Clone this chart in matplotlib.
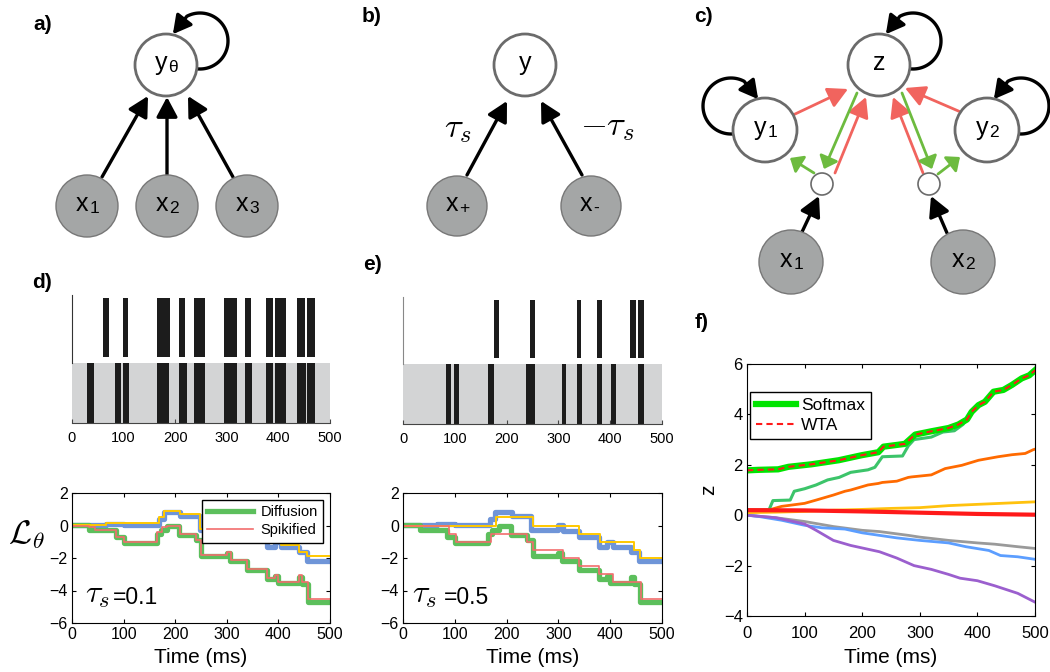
import numpy as np
import matplotlib
matplotlib.use('Agg')
import matplotlib.pyplot as plt
from matplotlib.patches import Circle, FancyArrowPatch, ArrowStyle
from matplotlib.path import Path
from matplotlib.lines import Line2D

plt.rcParams['font.family'] = ['Liberation Sans', 'DejaVu Sans']
plt.rcParams['mathtext.fontset'] = 'cm'

# ---------------- data ----------------
# raster spikes (start, end) in ms
d_top_spikes = [(61, 71), (98, 108), (165, 190), (208, 219), (237, 257), (295, 320),
                (335, 347), (375, 389), (394, 415), (437, 451), (455, 470)]
d_bot_spikes = [(30, 42), (83, 95), (98, 111), (165, 188), (208, 222), (237, 257),
                (295, 320), (335, 349), (375, 389), (394, 415), (437, 453), (455, 471)]
e_top_spikes = [(176, 185), (245, 254), (335, 344), (374, 384), (439, 449), (454, 465)]
e_bot_spikes = [(83, 93), (99, 109), (165, 175), (237, 254), (306, 315), (335, 345),
                (374, 384), (402, 412), (454, 465)]

# diffusion (shared by d and e)
up_t = [0, 65, 100, 168, 178, 210, 248, 300, 308, 340, 378, 393, 405, 440, 455, 500]
up_diff = [0.05, 0.12, 0.05, 0.38, 0.85, 0.6, -0.28, 0.03, -0.32, -0.69, -1.3, -1.0,
           -1.3, -1.6, -2.16, -2.16]
lo_t = [0, 33, 85, 100, 165, 172, 185, 208, 240, 250, 300, 306, 340, 378, 393, 400,
        440, 445, 458, 500]
lo_diff = [0.05, -0.3, -0.7, -1.1, -0.5, -0.25, -0.05, -0.6, -0.9, -1.9, -1.7, -2.2,
           -2.75, -3.3, -3.1, -3.55, -3.15, -3.6, -4.7, -4.7]

# spikified, tau_s = 0.1
d_up_t = [0, 65, 100, 168, 178, 210, 248, 300, 308, 340, 378, 393, 405, 440, 455, 500]
d_up_spk = [0.05, 0.13, 0.13, 0.54, 0.9, 0.7, -0.2, 0.0, -0.3, -0.7, -1.1, -0.9,
            -1.2, -1.6, -1.9, -1.9]
d_lo_t = [0, 33, 45, 85, 100, 165, 175, 185, 210, 240, 250, 300, 308, 340, 378, 393,
          400, 440, 445, 458, 500]
d_lo_spk = [0.0, -0.1, -0.28, -0.7, -1.0, -0.4, -0.1, 0.0, -0.5, -0.9, -1.8, -1.6,
            -2.15, -2.65, -3.25, -3.05, -3.45, -3.05, -3.45, -4.5, -4.5]

# spikified, tau_s = 0.5
e_up_t = [0, 180, 250, 340, 380, 445, 458, 500]
e_up_spk = [0.0, 0.5, 0.0, -0.5, -1.0, -1.5, -2.0, -2.0]
e_lo_t = [0, 88, 103, 170, 240, 250, 308, 340, 378, 405, 460, 500]
e_lo_spk = [0.0, -0.5, -1.0, -0.5, -1.0, -1.5, -2.0, -2.5, -3.0, -3.5, -4.5, -4.5]

# panel f
f_soft_t = [0, 20, 54, 72, 112, 159, 199, 228, 237, 274, 292, 320, 350, 367, 382, 390,
            402, 413, 428, 445, 460, 477, 490, 500]
f_soft = [1.78, 1.8, 1.82, 1.92, 2.02, 2.18, 2.38, 2.5, 2.72, 2.83, 3.2, 3.33, 3.46,
          3.6, 3.8, 4.1, 4.37, 4.5, 4.9, 4.97, 5.17, 5.43, 5.55, 5.75]
f_wta = [1.78, 1.8, 1.82, 1.92, 2.02, 2.18, 2.38, 2.5, 2.72, 2.83, 3.2, 3.33, 3.46,
         3.6, 3.8, 4.1, 4.37, 4.5, 4.9, 4.97, 5.17, 5.43, 5.55, 5.75]
f_g2_t = [0, 38, 45, 75, 82, 100, 120, 140, 160, 180, 210, 222, 235, 270, 280, 290,
          320, 340, 360, 375, 385, 395, 402, 413, 428, 445, 460, 477, 500]
f_g2 = [0.2, 0.2, 0.58, 0.6, 0.95, 1.05, 1.2, 1.4, 1.5, 1.7, 1.8, 1.9, 2.32, 2.35,
        2.75, 3.0, 3.1, 3.3, 3.35, 3.6, 3.9, 4.2, 4.35, 4.45, 4.85, 4.95, 5.12, 5.4, 5.7]
f_or_t = [0, 40, 60, 100, 120, 150, 170, 180, 210, 228, 235, 260, 280, 286, 320, 344,
          373, 402, 436, 460, 483, 497, 500]
f_or = [0.2, 0.22, 0.35, 0.47, 0.6, 0.8, 0.95, 1.0, 1.2, 1.26, 1.3, 1.35, 1.5, 1.52,
        1.6, 1.85, 1.98, 2.18, 2.32, 2.4, 2.45, 2.6, 2.62]
f_ye_t = [0, 50, 100, 150, 200, 250, 300, 350, 400, 450, 500]
f_ye = [0.1, 0.12, 0.15, 0.2, 0.23, 0.27, 0.3, 0.38, 0.43, 0.48, 0.53]
f_rd_t = [0, 100, 200, 300, 400, 500]
f_rd = [0.2, 0.19, 0.15, 0.1, 0.05, 0.02]
f_gy_t = [0, 50, 100, 150, 200, 230, 280, 300, 350, 400, 430, 470, 500]
f_gy = [0.0, -0.1, -0.25, -0.45, -0.6, -0.65, -0.8, -0.87, -1.0, -1.1, -1.15, -1.25, -1.32]
f_bl_t = [0, 20, 60, 100, 130, 170, 200, 230, 260, 300, 350, 380, 420, 440, 470, 500]
f_bl = [0.0, -0.05, -0.2, -0.4, -0.5, -0.55, -0.7, -0.8, -0.9, -1.0, -1.1, -1.25, -1.4,
        -1.6, -1.65, -1.75]
f_pu_t = [0, 50, 100, 120, 150, 180, 210, 230, 260, 290, 320, 350, 370, 400, 430, 450,
          470, 500]
f_pu = [0, -0.1, -0.35, -0.6, -1.0, -1.2, -1.35, -1.45, -1.7, -2.0, -2.15, -2.35, -2.5,
        -2.6, -2.8, -2.95, -3.1, -3.45]

time_ticks = [0, 100, 200, 300, 400, 500]

# ---------------- figure ----------------
W, H = 1050, 672
fig = plt.figure(figsize=(W / 100, H / 100), dpi=100)

ov = fig.add_axes([0, 0, 1, 1])
ov.set_xlim(0, W)
ov.set_ylim(H, 0)
ov.axis('off')

def px_axes(l, t, r, b):
    return fig.add_axes([l / W, 1 - b / H, (r - l) / W, (b - t) / H])

WHITE_EDGE = '#6b6b6b'
GRAY_FILL = '#a4a6a6'
GRAY_EDGE = '#777777'
RED = '#f1645e'
GREEN = '#6dbb3f'

def node(cx, cy, r, filled, main, sub=None):
    if filled:
        ov.add_patch(Circle((cx, cy), r, facecolor=GRAY_FILL, edgecolor=GRAY_EDGE, lw=1.0, zorder=3))
    else:
        ov.add_patch(Circle((cx, cy), r, facecolor='white', edgecolor=WHITE_EDGE, lw=2.0, zorder=3))
    if main:
        if sub is None:
            ov.text(cx, cy + 5, main, fontsize=18, ha='center', va='baseline', zorder=4)
        else:
            ov.text(cx + 1.5, cy + 5, main, fontsize=18, ha='right', va='baseline', zorder=4)
            ov.text(cx + 2.5, cy + 7, sub, fontsize=12.5, ha='left', va='baseline', zorder=4)

def arrow(p0, p1, color='k', lw=2.4, hl=0.6, hw=0.32, ms=20):
    ov.add_patch(FancyArrowPatch(p0, p1, arrowstyle=ArrowStyle('-|>', head_length=hl, head_width=hw),
                                 mutation_scale=ms, lw=lw, color=color, shrinkA=0, shrinkB=0, zorder=2))

def loop(cx, cy, mirror=False):
    th = np.deg2rad(np.append(np.linspace(97, -118, 60), -166))
    lx = 34 + 28 * np.cos(th)
    ly = -24 + 28 * np.sin(th)
    if mirror:
        lx = -lx
    path = Path(np.column_stack([cx + lx, cy + ly]))
    ov.add_patch(FancyArrowPatch(path=path, arrowstyle=ArrowStyle('-|>', head_length=0.55, head_width=0.3),
                                 mutation_scale=20, lw=2.4, color='k', zorder=2))

# ---- panel a ----
ov.text(43, 24, 'a)', fontsize=15, fontweight='bold', ha='center', va='center')
arrow((102, 177), (148, 96))
arrow((167, 175), (167, 97))
arrow((233, 177), (188, 96))
node(166, 65, 31, False, 'y', 'θ')
loop(166, 65)
node(87, 206, 31, True, 'x', '1')
node(167, 206, 31, True, 'x', '2')
node(247, 206, 31, True, 'x', '3')

# ---- panel b ----
ov.text(372, 16, 'b)', fontsize=15, fontweight='bold', ha='center', va='center')
arrow((467, 175), (507, 101))
arrow((582, 175), (541, 101))
node(525, 65, 31, False, 'y')
node(457, 206, 30, True, 'x', '+')
node(591, 206, 30, True, 'x', '-')
ov.text(458, 128, r'$\tau_s$', fontsize=25, ha='center', va='center')
ov.text(607, 126, r'$-\tau_s$', fontsize=25, ha='center', va='center')

# ---- panel c ----
ov.text(703, 16, 'c)', fontsize=15, fontweight='bold', ha='center', va='center')
arrow((793, 115), (848, 89), color=RED, lw=2.0, hl=0.6, hw=0.32)
arrow((963, 113), (905, 88), color=RED, lw=2.0, hl=0.6, hw=0.32)
arrow((835, 173), (866, 97), color=RED, lw=2.0, hl=0.6, hw=0.32)
arrow((923, 173), (893, 97), color=RED, lw=2.0, hl=0.6, hw=0.32)
arrow((857, 93), (824, 169), color=GREEN, lw=2.0, hl=0.35, hw=0.3)
arrow((902, 93), (932, 169), color=GREEN, lw=2.0, hl=0.35, hw=0.3)
arrow((814, 173), (790, 158), color=GREEN, lw=2.0, hl=0.35, hw=0.3)
arrow((938, 174), (960, 157), color=GREEN, lw=2.0, hl=0.35, hw=0.3)
arrow((802, 232), (819, 196))
arrow((947, 233), (931, 196))
node(879, 65, 31, False, 'z')
loop(879, 65)
node(765, 130, 32, False, 'y', '1')
loop(765, 130, mirror=True)
node(987, 130, 32, False, 'y', '2')
loop(987, 130)
ov.add_patch(Circle((822, 184), 11, facecolor='white', edgecolor=WHITE_EDGE, lw=1.2, zorder=3))
ov.add_patch(Circle((929, 184), 11, facecolor='white', edgecolor=WHITE_EDGE, lw=1.2, zorder=3))
node(791, 262, 32, True, 'x', '1')
node(963, 262, 32, True, 'x', '2')

# ---- panel labels d, e, f ----
ov.text(42, 283, 'd)', fontsize=15, fontweight='bold', ha='center', va='center')
ov.text(372, 264, 'e)', fontsize=15, fontweight='bold', ha='center', va='center')
ov.text(702, 323, 'f)', fontsize=15, fontweight='bold', ha='center', va='center')

# ---- raster panels ----
BAND = 0.469
TOP0, TOP1 = 0.516, 0.977

def raster(l, t, r, b, top_sp, bot_sp, spine_col):
    ax = px_axes(l, t, r, b)
    ax.set_xlim(0, 500)
    ax.set_ylim(0, 1)
    ax.axhspan(0, BAND, color='#d3d4d5', lw=0, zorder=0)
    ax.broken_barh([(s, e - s) for s, e in top_sp], (TOP0, TOP1 - TOP0), facecolors='#1c1c1c', zorder=2)
    ax.broken_barh([(s, e - s) for s, e in bot_sp], (0, BAND), facecolors='#1c1c1c', zorder=2)
    for sp in ['top', 'right']:
        ax.spines[sp].set_visible(False)
    ax.spines['left'].set_bounds(BAND, 1.0)
    ax.spines['left'].set_color(spine_col)
    ax.spines['left'].set_linewidth(0.8)
    ax.spines['bottom'].set_linewidth(0.8)
    ax.spines['bottom'].set_color('#444444')
    ax.set_yticks([])
    ax.set_xticks(time_ticks)
    ax.tick_params(axis='x', direction='in', length=3, labelsize=10.5, pad=6, color='#444444')
    return ax

raster(72, 295, 330, 423, d_top_spikes, d_bot_spikes, '#333333')
raster(403, 297, 662, 424, e_top_spikes, e_bot_spikes, '#888888')

# ---- line panels d, e ----
BLUE_C = '#6f95d8'
GREEN_C = '#5cbf5c'
RED_C = '#f26d6d'
YEL_C = '#ffc800'

def lineplot(l, t, r, b, up_spk_t, up_spk, lo_spk_t, lo_spk):
    ax = px_axes(l, t, r, b)
    ax.step(up_t, up_diff, where='post', color=BLUE_C, lw=3.8, solid_capstyle='round')
    ax.step(lo_t, lo_diff, where='post', color=GREEN_C, lw=3.8, solid_capstyle='round')
    ax.step(up_spk_t, up_spk, where='post', color=YEL_C, lw=1.4)
    ax.step(lo_spk_t, lo_spk, where='post', color=RED_C, lw=1.2)
    ax.set_xlim(0, 500)
    ax.set_ylim(-6, 2)
    ax.set_xticks(time_ticks)
    ax.set_yticks([-6, -4, -2, 0, 2])
    ax.tick_params(direction='in', top=True, right=True, length=3, labelsize=11.5, pad=3)
    for sp in ax.spines.values():
        sp.set_linewidth(0.8)
    ax.set_xlabel('Time (ms)', fontsize=15, labelpad=4)
    return ax

axd = lineplot(72, 493, 330, 623, d_up_t, d_up_spk, d_lo_t, d_lo_spk)
axe = lineplot(403, 493, 662, 623, e_up_t, e_up_spk, e_lo_t, e_lo_spk)
axd.text(85, 595, r'$\tau_s$', fontsize=23, ha='left', va='center', transform=ov.transData)
axd.text(113, 598, '=0.1', fontsize=16.5, ha='left', va='center', transform=ov.transData)
axe.text(412, 595, r'$\tau_s$', fontsize=23, ha='left', va='center', transform=ov.transData)
axe.text(444, 598, '=0.5', fontsize=16.5, ha='left', va='center', transform=ov.transData)

h1 = Line2D([], [], color=GREEN_C, lw=3.8)
h2 = Line2D([], [], color=RED_C, lw=1.2)
leg = axd.legend([h1, h2], ['Diffusion', 'Spikified'], loc='upper right',
                 bbox_to_anchor=((323 - 72) / 258, (623 - 500) / 130), bbox_transform=axd.transAxes,
                 borderaxespad=0, fontsize=10.5, fancybox=False, framealpha=1, edgecolor='black',
                 handlelength=3.2, handletextpad=0.5, borderpad=0.35, labelspacing=0.3)
leg.get_frame().set_linewidth(1.0)
ov.text(8, 535, r'$\mathcal{L}_\theta$', fontsize=24, ha='left', va='center')

# ---- panel f ----
axf = px_axes(747, 364, 1035, 616)
axf.plot(f_gy_t, f_gy, color='#9a9a9a', lw=2.0)
axf.plot(f_bl_t, f_bl, color='#5c9eff', lw=2.0)
axf.plot(f_pu_t, f_pu, color='#9b5fce', lw=2.0)
axf.plot(f_ye_t, f_ye, color='#ffc20e', lw=2.0)
axf.plot(f_or_t, f_or, color='#ff6a00', lw=2.0)
axf.plot(f_g2_t, f_g2, color='#3cc46a', lw=2.2)
axf.plot(f_rd_t, f_rd, color='#ff1a1a', lw=3.0)
ls, = axf.plot(f_soft_t, f_soft, color='#00e400', lw=4.5, label='Softmax')
lw_, = axf.plot(f_soft_t, f_wta, color='#ff1a1a', lw=1.5, ls=(0, (3, 2)), label='WTA')
axf.set_xlim(0, 500)
axf.set_ylim(-4, 6)
axf.set_xticks(time_ticks)
axf.set_yticks([-4, -2, 0, 2, 4, 6])
axf.tick_params(direction='in', top=True, right=True, length=3, labelsize=12, pad=3)
axf.tick_params(axis='x', pad=7)
for sp in axf.spines.values():
    sp.set_linewidth(0.8)
axf.set_xlabel('Time (ms)', fontsize=15, labelpad=5)
axf.set_ylabel('z', fontsize=15, labelpad=4)
legf = axf.legend([ls, lw_], ['Softmax', 'WTA'], loc='upper left',
                  bbox_to_anchor=((750 - 747) / 288, (616 - 392) / 252), bbox_transform=axf.transAxes,
                  borderaxespad=0, fontsize=12.5, fancybox=False, framealpha=1, edgecolor='black',
                  handlelength=2.3, handletextpad=0.3, borderpad=0.35, labelspacing=0.25)
legf.get_frame().set_linewidth(1.0)

fig.savefig('out.png', dpi=100)
